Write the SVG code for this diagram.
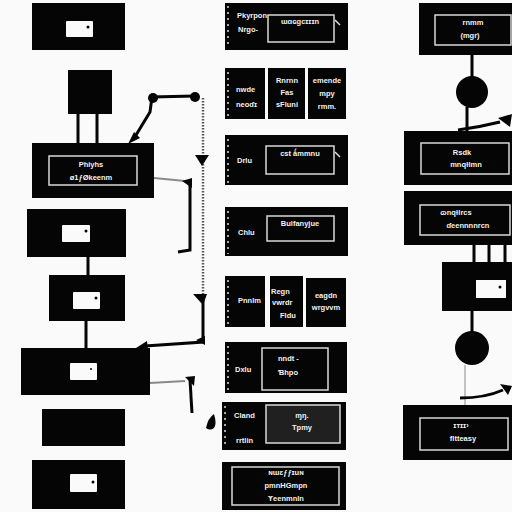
<svg xmlns="http://www.w3.org/2000/svg" width="512" height="512" viewBox="0 0 512 512">
<style>
.b{fill:#050505}
.w{fill:#fafafa}
.fr{fill:none;stroke:#d8d8d8;stroke-width:1.5}
.t{fill:#f2f2f2;font-family:"Liberation Sans Narrow","Liberation Sans",sans-serif;font-weight:bold;font-size:7.5px}
.tc{text-anchor:middle}
.ln{stroke:#050505;stroke-width:3;fill:none}
.gl{stroke:#8a8a8a;stroke-width:2;fill:none}
.dot{stroke:#555;stroke-width:2.5;stroke-dasharray:1.5 1.5;fill:none}
.tick{stroke:#dcdcdc;stroke-width:1.5;stroke-dasharray:2 4;fill:none}
</style>
<rect width="512" height="512" fill="#fafafa"/>

<g id="connectors">
<line class="ln" x1="78" y1="114" x2="78" y2="143"/>
<line class="ln" x1="97" y1="114" x2="97" y2="143"/>
<line class="ln" x1="88" y1="257" x2="88" y2="275"/>
<line class="ln" x1="86" y1="320" x2="86" y2="348"/>
<polyline class="ln" points="133,140 150,112 152,97 195,96"/>
<polygon class="b" points="128,144 140,138 134,132"/>
<circle class="b" cx="153" cy="98" r="5"/>
<circle class="b" cx="195" cy="97" r="5"/>
<line class="dot" x1="203" y1="98" x2="203" y2="302"/>
<polygon class="b" points="195,155 209,155 202,166"/>
<line class="gl" x1="154" y1="178" x2="185" y2="181"/>
<polyline class="ln" points="190,180 190,250 178,252"/>
<polygon class="b" points="182,181 192,178 192,188"/>
<polygon class="b" points="193,294 207,294 203,305"/>
<polyline class="ln" points="203,300 203,342 145,346"/>
<polygon class="b" points="136,348 147,341 148,350"/>
<polygon class="b" points="196,340 205,336 205,345"/>
<line class="gl" x1="150" y1="383" x2="185" y2="381"/>
<polyline class="ln" points="190,380 192,413"/>
<polygon class="b" points="185,377 195,376 194,386"/>
<path class="b" d="M206,428 Q208,418 214,414 Q217,424 214,428 Q210,431 206,428Z"/>
<line class="ln" x1="472" y1="55" x2="472" y2="78"/>
<circle class="b" cx="472" cy="92" r="16"/>
<line class="ln" x1="467" y1="107" x2="467" y2="131"/>
<path class="ln" d="M458,130 Q480,127 500,122"/>
<polygon class="b" points="498,118 512,114 510,127"/>
<line class="ln" x1="474" y1="245" x2="474" y2="262"/>
<line class="ln" x1="489" y1="245" x2="489" y2="262"/>
<line class="ln" x1="505" y1="245" x2="505" y2="262"/>
<line class="ln" x1="472" y1="311" x2="472" y2="333"/>
<circle class="b" cx="472" cy="348" r="17"/>
<line class="gl" x1="465" y1="365" x2="465" y2="406" style="stroke-width:1"/>
<path class="ln" d="M460,398 Q485,398 503,390"/>
<polygon class="b" points="500,384 512,386 508,395"/>
</g>

<g id="n-left1"><rect class="b" x="32" y="3" width="93" height="47"/><rect class="w" x="66" y="21" width="27" height="16" rx="1"/><circle class="b" cx="88" cy="27" r="1.5"/></g>
<g id="n-left2"><rect class="b" x="68" y="70" width="44" height="44"/></g>
<g id="n-left3"><rect class="b" x="32" y="143" width="122" height="55"/><rect class="fr" x="49" y="156" width="88" height="29"/><text class="t tc" x="91" y="167">Phiyhs</text><text class="t tc" x="91" y="180">ø1ƒØkeenm</text></g>
<g id="n-left4"><rect class="b" x="27" y="209" width="99" height="48"/><rect class="w" x="62" y="225" width="28" height="17" rx="1"/><circle class="b" cx="86" cy="231" r="1.5"/></g>
<g id="n-left5"><rect class="b" x="49" y="275" width="76" height="46"/><rect class="w" x="73" y="292" width="27" height="17" rx="1"/><circle class="b" cx="96" cy="298" r="1.5"/></g>
<g id="n-left6"><rect class="b" x="21" y="348" width="129" height="47"/><rect class="w" x="70" y="363" width="27" height="17" rx="1"/><circle class="b" cx="91" cy="369" r="1"/></g>
<g id="n-left7"><rect class="b" x="42" y="409" width="83" height="37"/></g>
<g id="n-left8"><rect class="b" x="32" y="460" width="93" height="49"/><rect class="w" x="70" y="474" width="27" height="18" rx="1"/><circle class="b" cx="93" cy="482" r="1.5"/></g>

<g id="n-mid1"><rect class="b" x="225" y="3" width="123" height="47"/><line class="tick" x1="228" y1="6" x2="228" y2="48"/><text class="t" x="237" y="18">Pkyrpon</text><text class="t" x="238" y="32">Nrgo-</text><rect class="fr" x="268" y="15" width="66" height="27"/><text class="t tc" x="300" y="24">ɯɑɢɡcɪɪɪn</text><line class="fr" x1="335" y1="20" x2="340" y2="25"/></g>
<g id="n-mid2"><rect class="b" x="225" y="68" width="40" height="51"/><rect class="b" x="268" y="68" width="37" height="51"/><rect class="b" x="308" y="68" width="38" height="51"/><line class="tick" x1="228" y1="72" x2="228" y2="116"/><text class="t" x="236" y="92">nwde</text><text class="t" x="236" y="107">neoɗɪ</text><text class="t tc" x="287" y="83">Rnrnn</text><text class="t tc" x="287" y="95">Fas</text><text class="t tc" x="287" y="107">sFluni</text><text class="t tc" x="327" y="83">emende</text><text class="t tc" x="327" y="96">mpy</text><text class="t tc" x="327" y="109">rmm.</text></g>
<g id="n-mid3"><rect class="b" x="225" y="135" width="123" height="50"/><line class="tick" x1="228" y1="139" x2="228" y2="183"/><text class="t" x="237" y="163">Drlu</text><rect class="fr" x="266" y="146" width="68" height="28"/><text class="t tc" x="300" y="156">cst ǻmmnu</text><line class="fr" x1="335" y1="152" x2="340" y2="157"/></g>
<g id="n-mid4"><rect class="b" x="225" y="207" width="123" height="49"/><line class="tick" x1="228" y1="211" x2="228" y2="254"/><text class="t" x="238" y="235">Chlu</text><rect class="fr" x="267" y="216" width="67" height="25"/><text class="t tc" x="300" y="226">Bulfanyjue</text></g>
<g id="n-mid5"><rect class="b" x="225" y="276" width="40" height="51"/><rect class="b" x="270" y="276" width="33" height="51"/><rect class="b" x="306" y="278" width="40" height="49"/><line class="tick" x1="228" y1="280" x2="228" y2="324"/><text class="t" x="238" y="303">Pnnlm</text><text class="t" x="271" y="294">Regn</text><text class="t" x="272" y="305">vwrdr</text><text class="t" x="280" y="318">Fldu</text><text class="t tc" x="326" y="298">eagdn</text><text class="t tc" x="326" y="310">wrgvvm</text></g>
<g id="n-mid6"><rect class="b" x="225" y="342" width="122" height="51"/><line class="tick" x1="228" y1="346" x2="228" y2="391"/><text class="t" x="235" y="372">Dxlu</text><rect class="fr" x="262" y="348" width="66" height="42"/><text class="t" x="278" y="361">nndt -</text><text class="t" x="278" y="375">Ɓhpo</text></g>
<g id="n-mid7"><rect class="b" x="222" y="402" width="124" height="48"/><line class="tick" x1="225" y1="406" x2="225" y2="448"/><text class="t" x="234" y="418">Cland</text><text class="t" x="236" y="443">rrtlin</text><rect x="266" y="405" width="74" height="38" fill="#202020" stroke="#d8d8d8" stroke-width="1.5"/><text class="t tc" x="302" y="418">ɱŋ.</text><text class="t tc" x="302" y="430">Tpmy</text></g>
<g id="n-mid8"><rect class="b" x="222" y="462" width="124" height="48"/><rect class="fr" x="232" y="467" width="107" height="38"/><text class="t tc" x="286" y="475">ɴɯɛƒƒɪuɴ</text><text class="t tc" x="286" y="488">pmnHGmpn</text><text class="t tc" x="286" y="501">Ɏeenmnln</text></g>

<g id="n-right1"><rect class="b" x="419" y="3" width="93" height="52"/><rect class="fr" x="435" y="15" width="76" height="30"/><text class="t tc" x="473" y="25">rnmm</text><text class="t tc" x="470" y="38">(mgr)</text></g>
<g id="n-right2"><rect class="b" x="404" y="131" width="108" height="54"/><rect class="fr" x="421" y="143" width="88" height="31"/><text class="t tc" x="462" y="155">Rsdk</text><text class="t tc" x="466" y="167">mnqɫlmn</text></g>
<g id="n-right3"><rect class="b" x="404" y="191" width="108" height="54"/><rect class="fr" x="420" y="205" width="90" height="30"/><text class="t tc" x="456" y="215">ɷnqɫlrcs</text><text class="t tc" x="468" y="228">ɗeennnnrcn</text></g>
<g id="n-right4"><rect class="b" x="442" y="262" width="70" height="49"/><rect class="w" x="476" y="280" width="30" height="18"/><circle class="b" cx="500" cy="287" r="1.5"/></g>
<g id="n-right5"><rect class="b" x="403" y="405" width="109" height="55"/><rect class="fr" x="420" y="418" width="88" height="32"/><text class="t tc" x="461" y="428">ɪтɪɪ›</text><text class="t tc" x="463" y="441">fltteasy</text></g>
</svg>
